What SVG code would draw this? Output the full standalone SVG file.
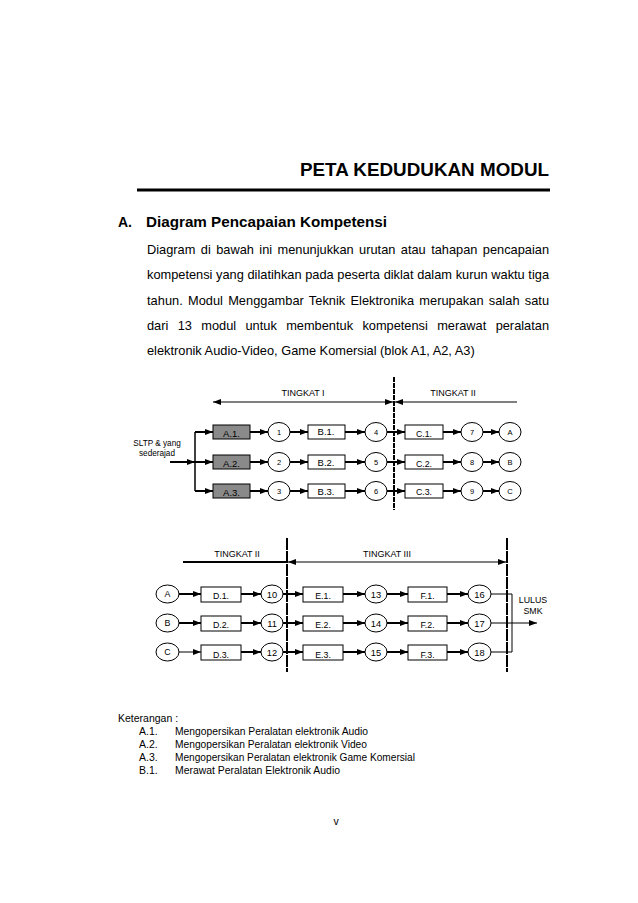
<svg xmlns="http://www.w3.org/2000/svg" width="638" height="903" viewBox="0 0 638 903">
<style>
.body{font-family:"Liberation Sans",Arial,sans-serif;fill:#000}
.title{font-family:"Liberation Sans",Arial,sans-serif;font-weight:bold;fill:#000}
.lbl{font-family:"Liberation Sans",Arial,sans-serif;font-size:8.8px;fill:#000;text-anchor:middle}
.lblb{font-family:"Liberation Sans",Arial,sans-serif;font-size:9.5px;fill:#000;text-anchor:middle}
.num{font-family:"Liberation Sans",Arial,sans-serif;font-size:9.3px;fill:#000;text-anchor:middle}
.small{font-family:"Liberation Sans",Arial,sans-serif;font-size:7.5px;fill:#000;text-anchor:middle}
.tk{font-family:"Liberation Sans",Arial,sans-serif;font-size:9px;fill:#000;text-anchor:middle}
.box{fill:#fff;stroke:#000;stroke-width:1}
.gbox{fill:#8a8a8a;stroke:#000;stroke-width:1}
.node{fill:#fff;stroke:#000;stroke-width:1}
.arr{stroke:#000;stroke-width:2;fill:none;marker-end:url(#ah)}
.arrt{stroke:#000;stroke-width:1;fill:none;marker-end:url(#ah)}
.ln{stroke:#000;stroke-width:1;fill:none}
.ln2{stroke:#000;stroke-width:1.5;fill:none}
</style>
<defs>
<marker id="ah" markerUnits="userSpaceOnUse" markerWidth="8" markerHeight="6" refX="8" refY="3" orient="auto-start-reverse">
<path d="M0,0 L8,3 L0,6 z" fill="#000"/>
</marker>
</defs>
<rect width="638" height="903" fill="#fff"/>

<g id="header">
<text class="title" x="549" y="176" font-size="18" text-anchor="end" textLength="249" lengthAdjust="spacingAndGlyphs">PETA KEDUDUKAN MODUL</text>
<rect x="137" y="188.5" width="413" height="3" fill="#000"/>
<text class="title" x="118" y="227" font-size="14">A.</text>
<text class="title" x="146" y="227" font-size="14" textLength="241" lengthAdjust="spacingAndGlyphs">Diagram Pencapaian Kompetensi</text>
</g>

<g id="paragraph" class="body" font-size="12.8">
<text x="147" y="253.5" word-spacing="1.9" textLength="402" lengthAdjust="spacing">Diagram di bawah ini menunjukkan urutan atau tahapan pencapaian</text>
<text x="147" y="279" word-spacing="0.1" textLength="402" lengthAdjust="spacing">kompetensi yang dilatihkan pada peserta diklat dalam kurun waktu tiga</text>
<text x="147" y="304.5" word-spacing="1.6" textLength="402" lengthAdjust="spacing">tahun. Modul Menggambar Teknik Elektronika merupakan salah satu</text>
<text x="147" y="330" word-spacing="5.8" textLength="402" lengthAdjust="spacing">dari 13 modul untuk membentuk kompetensi merawat peralatan</text>
<text x="147" y="355">elektronik Audio-Video, Game Komersial (blok A1, A2, A3)</text>
</g>

<!-- Diagram 1 -->
<g id="d1-scale">
<line x1="394" y1="377" x2="394" y2="510" stroke="#000" stroke-width="2" stroke-dasharray="5,1"/>
<text class="tk" x="303" y="396">TINGKAT I</text>
<text class="tk" x="453" y="396">TINGKAT II</text>
</g>
<g id="d1-start">
<text class="body" font-size="8.2" text-anchor="middle" x="157" y="446">SLTP &amp; yang</text>
<text class="body" font-size="8.2" text-anchor="middle" x="157" y="456">sederajad</text>
</g>

<g id="connectors">
<line x1="213" y1="402" x2="393" y2="402" class="ln" marker-start="url(#ah)" marker-end="url(#ah)"/>
<line x1="517" y1="402" x2="395" y2="402" class="ln" marker-end="url(#ah)"/>
<line x1="170" y1="462" x2="195" y2="462" class="arr"/>
<path d="M195,432 L195,491" class="ln2"/>
<line x1="195" y1="432" x2="213" y2="432" class="arr"/>
<line x1="195" y1="462" x2="213" y2="462" class="arr"/>
<line x1="195" y1="491" x2="213" y2="491" class="arr"/>
<line x1="250" y1="432" x2="268" y2="432" class="arr"/>
<line x1="250" y1="462" x2="268" y2="462" class="arr"/>
<line x1="250" y1="491" x2="268" y2="491" class="arr"/>
<line x1="290" y1="432" x2="308" y2="432" class="arr"/>
<line x1="290" y1="462" x2="308" y2="462" class="arr"/>
<line x1="290" y1="491" x2="308" y2="491" class="arr"/>
<line x1="345" y1="432" x2="365" y2="432" class="arr"/>
<line x1="345" y1="462" x2="365" y2="462" class="arr"/>
<line x1="345" y1="491" x2="365" y2="491" class="arr"/>
<line x1="387" y1="432" x2="405" y2="432" class="arr"/>
<line x1="387" y1="462" x2="405" y2="462" class="arr"/>
<line x1="387" y1="491" x2="405" y2="491" class="arr"/>
<line x1="443" y1="432" x2="461" y2="432" class="arr"/>
<line x1="443" y1="462" x2="461" y2="462" class="arr"/>
<line x1="443" y1="491" x2="461" y2="491" class="arr"/>
<line x1="483" y1="432" x2="499" y2="432" class="arr"/>
<line x1="483" y1="462" x2="499" y2="462" class="arr"/>
<line x1="483" y1="491" x2="499" y2="491" class="arr"/>

<!-- Diagram 2 -->
<line x1="183" y1="562" x2="287" y2="562" stroke="#000" stroke-width="2"/>
<line x1="288" y1="562" x2="506" y2="562" class="ln" marker-start="url(#ah)" marker-end="url(#ah)"/>
<line x1="287" y1="538" x2="287" y2="672" stroke="#000" stroke-width="2" stroke-dasharray="12,1"/>
<line x1="507" y1="538" x2="507" y2="672" stroke="#000" stroke-width="2" stroke-dasharray="12,1"/>
<line x1="179" y1="594" x2="201" y2="594" class="arr"/>
<line x1="179" y1="623" x2="201" y2="623" class="arr"/>
<line x1="179" y1="652" x2="201" y2="652" class="arrt"/>
<line x1="241" y1="594" x2="261" y2="594" class="arr"/>
<line x1="241" y1="623" x2="261" y2="623" class="arr"/>
<line x1="241" y1="652" x2="261" y2="652" class="arr"/>
<line x1="283" y1="594" x2="303" y2="594" class="arr"/>
<line x1="283" y1="623" x2="303" y2="623" class="arr"/>
<line x1="283" y1="652" x2="303" y2="652" class="arr"/>
<line x1="343" y1="594" x2="365" y2="594" class="arr"/>
<line x1="343" y1="623" x2="365" y2="623" class="arr"/>
<line x1="343" y1="652" x2="365" y2="652" class="arr"/>
<line x1="387" y1="594" x2="408" y2="594" class="arr"/>
<line x1="387" y1="623" x2="408" y2="623" class="arr"/>
<line x1="387" y1="652" x2="408" y2="652" class="arr"/>
<line x1="447" y1="594" x2="468" y2="594" class="arr"/>
<line x1="447" y1="623" x2="468" y2="623" class="arr"/>
<line x1="447" y1="652" x2="468" y2="652" class="arr"/>
<path d="M491,594 L512,594 L512,652 L491,652" class="ln"/>
<line x1="491" y1="623" x2="537" y2="623" class="arrt"/>
</g>

<g id="A1"><rect class="gbox" x="213" y="425" width="37" height="14"/><text class="lblb" x="231.5" y="436.5">A.1.</text></g>
<g id="A2"><rect class="gbox" x="213" y="455" width="37" height="14"/><text class="lblb" x="231.5" y="466.5">A.2.</text></g>
<g id="A3"><rect class="gbox" x="213" y="484" width="37" height="14"/><text class="lblb" x="231.5" y="496">A.3.</text></g>
<g id="n1"><ellipse class="node" cx="279" cy="432" rx="11" ry="9.5"/><text class="small" x="279" y="435">1</text></g>
<g id="n2"><ellipse class="node" cx="279" cy="462" rx="11" ry="9.5"/><text class="small" x="279" y="465">2</text></g>
<g id="n3"><ellipse class="node" cx="279" cy="491" rx="11" ry="9.5"/><text class="small" x="279" y="494">3</text></g>
<g id="B1"><rect class="box" x="308" y="425" width="37" height="14"/><text class="lblb" x="326" y="435">B.1.</text></g>
<g id="B2"><rect class="box" x="308" y="455" width="37" height="14"/><text class="lblb" x="326" y="465.5">B.2.</text></g>
<g id="B3"><rect class="box" x="308" y="484" width="37" height="14"/><text class="lblb" x="326" y="494.5">B.3.</text></g>
<g id="n4"><ellipse class="node" cx="376" cy="432" rx="11" ry="9.5"/><text class="small" x="376" y="435">4</text></g>
<g id="n5"><ellipse class="node" cx="376" cy="462" rx="11" ry="9.5"/><text class="small" x="376" y="465">5</text></g>
<g id="n6"><ellipse class="node" cx="376" cy="491" rx="11" ry="9.5"/><text class="small" x="376" y="494">6</text></g>
<g id="C1"><rect class="box" x="405" y="425" width="38" height="14"/><text class="lbl" x="424" y="437">C.1.</text></g>
<g id="C2"><rect class="box" x="405" y="455" width="38" height="14"/><text class="lbl" x="424" y="467">C.2.</text></g>
<g id="C3"><rect class="box" x="405" y="484" width="38" height="14"/><text class="lbl" x="424" y="495">C.3.</text></g>
<g id="n7"><ellipse class="node" cx="472" cy="432" rx="11" ry="9.5"/><text class="small" x="472" y="435">7</text></g>
<g id="n8"><ellipse class="node" cx="472" cy="462" rx="11" ry="9.5"/><text class="small" x="472" y="465">8</text></g>
<g id="n9"><ellipse class="node" cx="472" cy="491" rx="11" ry="9.5"/><text class="small" x="472" y="494">9</text></g>
<g id="outA"><ellipse class="node" cx="510" cy="432" rx="11" ry="9.5"/><text class="small" x="510" y="435">A</text></g>
<g id="outB"><ellipse class="node" cx="510" cy="462" rx="11" ry="9.5"/><text class="small" x="510" y="465">B</text></g>
<g id="outC"><ellipse class="node" cx="510" cy="491" rx="11" ry="9.5"/><text class="small" x="510" y="494">C</text></g>

<g id="d2-scale">
<text class="tk" x="237" y="557">TINGKAT II</text>
<text class="tk" x="387" y="557">TINGKAT III</text>
</g>
<g id="inA"><ellipse class="node" cx="167.5" cy="594" rx="11.5" ry="9"/><text class="lbl" x="167.5" y="597">A</text></g>
<g id="inB"><ellipse class="node" cx="167.5" cy="623" rx="11.5" ry="9"/><text class="lbl" x="167.5" y="626">B</text></g>
<g id="inC"><ellipse class="node" cx="167.5" cy="652" rx="11.5" ry="9"/><text class="lbl" x="167.5" y="655">C</text></g>
<g id="D1"><rect class="box" x="201" y="587" width="40" height="15"/><text class="lbl" x="221" y="599">D.1.</text></g>
<g id="D2"><rect class="box" x="201" y="616" width="40" height="15"/><text class="lbl" x="221" y="628">D.2.</text></g>
<g id="D3"><rect class="box" x="201" y="645" width="40" height="15"/><text class="lbl" x="221" y="658">D.3.</text></g>
<g id="n10"><ellipse class="node" cx="272" cy="594" rx="11" ry="9"/><text class="num" x="272" y="597.5">10</text></g>
<g id="n11"><ellipse class="node" cx="272" cy="623" rx="11" ry="9"/><text class="num" x="272" y="626.5">11</text></g>
<g id="n12"><ellipse class="node" cx="272" cy="652" rx="11" ry="9"/><text class="num" x="272" y="655.5">12</text></g>
<g id="E1"><rect class="box" x="303" y="587" width="40" height="15"/><text class="lbl" x="323" y="599">E.1.</text></g>
<g id="E2"><rect class="box" x="303" y="616" width="40" height="15"/><text class="lbl" x="323" y="628">E.2.</text></g>
<g id="E3"><rect class="box" x="303" y="645" width="40" height="15"/><text class="lbl" x="323" y="658">E.3.</text></g>
<g id="n13"><ellipse class="node" cx="376" cy="594" rx="11" ry="9"/><text class="num" x="376" y="597.5">13</text></g>
<g id="n14"><ellipse class="node" cx="376" cy="623" rx="11" ry="9"/><text class="num" x="376" y="626.5">14</text></g>
<g id="n15"><ellipse class="node" cx="376" cy="652" rx="11" ry="9"/><text class="num" x="376" y="655.5">15</text></g>
<g id="F1"><rect class="box" x="408" y="587" width="39" height="15"/><text class="lbl" x="427.5" y="599">F.1.</text></g>
<g id="F2"><rect class="box" x="408" y="616" width="39" height="15"/><text class="lbl" x="427.5" y="628">F.2.</text></g>
<g id="F3"><rect class="box" x="408" y="645" width="39" height="15"/><text class="lbl" x="427.5" y="658">F.3.</text></g>
<g id="n16"><ellipse class="node" cx="479.5" cy="594" rx="11.5" ry="9"/><text class="num" x="479.5" y="597.5">16</text></g>
<g id="n17"><ellipse class="node" cx="479.5" cy="623" rx="11.5" ry="9"/><text class="num" x="479.5" y="626.5">17</text></g>
<g id="n18"><ellipse class="node" cx="479.5" cy="652" rx="11.5" ry="9"/><text class="num" x="479.5" y="655.5">18</text></g>
<g id="lulus">
<text class="lbl" x="533" y="603">LULUS</text>
<text class="lbl" x="533" y="614">SMK</text>
</g>

<g id="keterangan" class="body" font-size="10.5">
<text x="118" y="722">Keterangan :</text>
<text x="139" y="735">A.1.</text><text x="175" y="735" textLength="193" lengthAdjust="spacingAndGlyphs">Mengopersikan Peralatan elektronik Audio</text>
<text x="139" y="748">A.2.</text><text x="175" y="748" textLength="192" lengthAdjust="spacingAndGlyphs">Mengopersikan Peralatan elektronik Video</text>
<text x="139" y="761">A.3.</text><text x="175" y="761" textLength="240" lengthAdjust="spacingAndGlyphs">Mengopersikan Peralatan elektronik Game Komersial</text>
<text x="139" y="774">B.1.</text><text x="175" y="774" textLength="165" lengthAdjust="spacingAndGlyphs">Merawat Peralatan Elektronik Audio</text>
</g>
<text class="body" x="336" y="825" font-size="10.5" text-anchor="middle">v</text>
</svg>
